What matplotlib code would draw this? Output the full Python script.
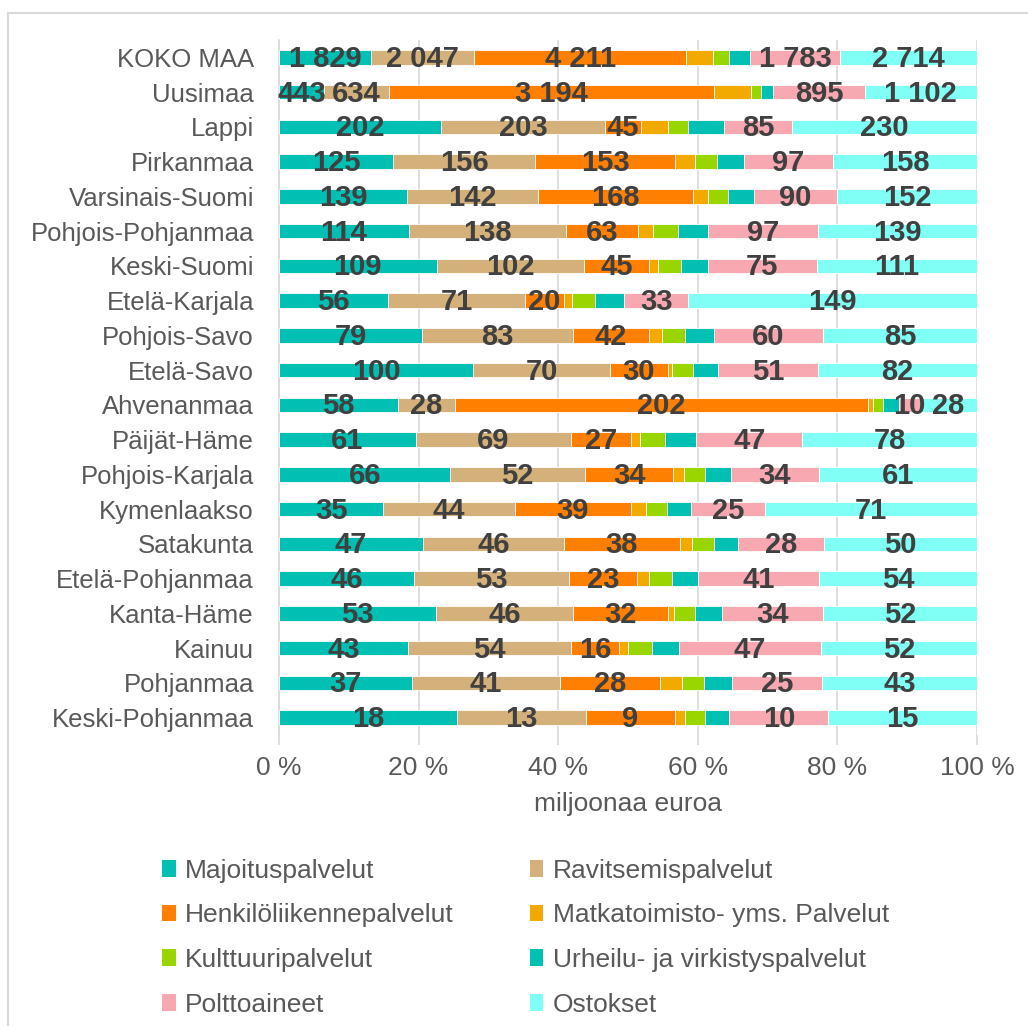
import numpy as np
import matplotlib
matplotlib.use("Agg")
import matplotlib.pyplot as plt
from matplotlib.patches import Patch, Rectangle

# regions, top to bottom
regions = ["KOKO MAA", "Uusimaa", "Lappi", "Pirkanmaa", "Varsinais-Suomi",
           "Pohjois-Pohjanmaa", "Keski-Suomi", "Etelä-Karjala", "Pohjois-Savo",
           "Etelä-Savo", "Ahvenanmaa", "Päijät-Häme", "Pohjois-Karjala",
           "Kymenlaakso", "Satakunta", "Etelä-Pohjanmaa", "Kanta-Häme",
           "Kainuu", "Pohjanmaa", "Keski-Pohjanmaa"]

majoitus = [1829, 443, 202, 125, 139, 114, 109, 56, 79, 100, 58, 61, 66, 35, 47, 46, 53, 43, 37, 18]
ravitsemis = [2047, 634, 203, 156, 142, 138, 102, 71, 83, 70, 28, 69, 52, 44, 46, 53, 46, 54, 41, 13]
henkilo = [4211, 3194, 45, 153, 168, 63, 45, 20, 42, 30, 202, 27, 34, 39, 38, 23, 32, 16, 28, 9]
matka = [530, 360, 34, 22, 16, 13, 6, 4, 7, 2, 2.5, 4, 4, 5, 4, 4, 2, 3, 6, 1]
kulttuuri = [320, 95, 24, 24, 22, 22, 16, 12, 13, 11, 5, 11, 8, 7, 7, 8, 7, 8, 6, 2]
urheilu = [420, 125, 45, 30, 28, 26, 19, 15, 16, 13, 8, 14, 10, 8, 8, 9, 9, 9, 8, 2.5]
polttoaineet = [1783, 895, 85, 97, 90, 97, 75, 33, 60, 51, 10, 47, 34, 25, 28, 41, 34, 47, 25, 10]
ostokset = [2714, 1102, 230, 158, 152, 139, 111, 149, 85, 82, 28, 78, 61, 71, 50, 54, 52, 52, 43, 15]

series_names = ["Majoituspalvelut", "Ravitsemispalvelut", "Henkilöliikennepalvelut",
                "Matkatoimisto- yms. Palvelut", "Kulttuuripalvelut",
                "Urheilu- ja virkistyspalvelut", "Polttoaineet", "Ostokset"]
series = [majoitus, ravitsemis, henkilo, matka, kulttuuri, urheilu, polttoaineet, ostokset]
colors = ["#00BFB3", "#D4B07A", "#FF8000", "#F2A900", "#99D600", "#00BFB3", "#F7A8B0", "#80FFF6"]
labelled = [True, True, True, False, False, False, True, True]

FONT = ["Liberation Sans", "DejaVu Sans"]
TEXT_COLOR = "#595959"
LABEL_COLOR = "#404040"
GRID_COLOR = "#D9D9D9"


def fmt(v):
    return f"{int(round(v)):,}".replace(",", " ")


def main():
    data = np.array(series, dtype=float)
    totals = data.sum(axis=0)
    shares = data / totals * 100

    fig = plt.figure(figsize=(10.28, 10.26), dpi=100)
    ax = fig.add_axes([0.2714, 0.2836, 0.679, 0.6774])

    y = np.arange(len(regions))
    left = np.zeros(len(regions))
    for i, name in enumerate(series_names):
        ax.barh(y, shares[i], left=left, height=0.42, color=colors[i],
                edgecolor="white", linewidth=0.6, label=name, zorder=3)
        if labelled[i]:
            for j in range(len(regions)):
                ax.text(left[j] + shares[i][j] / 2, y[j] + 0.04, fmt(data[i][j]),
                        ha="center", va="center", fontsize=21, fontweight="bold",
                        color=LABEL_COLOR, family=FONT, zorder=4)
        left += shares[i]

    ax.set_xlim(0, 100)
    ax.set_ylim(len(regions) - 0.5, -0.5)
    ax.set_yticks(y)
    ax.set_yticklabels(regions, family=FONT, fontsize=18.5, color=TEXT_COLOR)
    ax.set_xticks(np.arange(0, 101, 20))
    ax.set_xticklabels([f"{v} %" for v in range(0, 101, 20)], family=FONT,
                       fontsize=19, color=TEXT_COLOR)
    ax.tick_params(axis="y", length=0, pad=18)
    ax.tick_params(axis="x", length=7, width=1.2, color=GRID_COLOR, pad=8)
    ax.grid(True, axis="x", color=GRID_COLOR, linewidth=1.2, zorder=0)

    for side in ["top", "right", "bottom"]:
        ax.spines[side].set_visible(False)
    ax.spines["left"].set_color(GRID_COLOR)
    ax.spines["left"].set_linewidth(1.2)

    ax.set_xlabel("miljoonaa euroa", family=FONT, fontsize=19,
                  color=TEXT_COLOR, labelpad=9)

    # legend, row-wise order as two columns
    order = [0, 2, 4, 6, 1, 3, 5, 7]
    handles = [Patch(facecolor=colors[k], edgecolor="none") for k in order]
    labels = [series_names[k] for k in order]
    fig.legend(handles, labels, loc="upper left", bbox_to_anchor=(0.158, 0.163),
               ncol=2, frameon=False, handlelength=0.5, handleheight=0.6,
               handletextpad=0.35, labelspacing=0.78, columnspacing=2.9,
               prop={"family": FONT, "size": 19}, labelcolor=TEXT_COLOR,
               borderaxespad=0, borderpad=0)

    fig.add_artist(Rectangle((8 / 1028, -0.05), 1.05, 0.05 + 1 - 13 / 1026,
                             transform=fig.transFigure, fill=False,
                             edgecolor=GRID_COLOR, linewidth=1.5))

    fig.savefig("out.png", dpi=100)
    plt.close(fig)


if __name__ == "__main__":
    main()
